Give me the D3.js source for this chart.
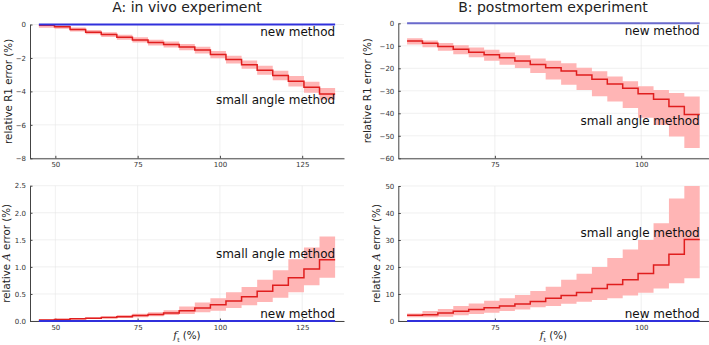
<!DOCTYPE html>
<html>
<head>
<meta charset="utf-8">
<title>relative error</title>
<script src="https://d3js.org/d3.v7.min.js"></script>
<style>
  body { margin: 0; background: #fff; }
  text { font-family: "DejaVu Sans", sans-serif; }
</style>
</head>
<body>
<svg width="709" height="345"></svg>
<script>
// step edges (f_t, %)
const fA = [45, 49.74, 54.47, 59.21, 63.95, 68.68, 73.42, 78.16, 82.89, 87.63, 92.37, 97.11, 101.84, 106.58, 111.32, 116.05, 120.79, 125.53, 130.26, 135];
const fB = [60, 62.63, 65.26, 67.89, 70.53, 73.16, 75.79, 78.42, 81.05, 83.68, 86.32, 88.95, 91.58, 94.21, 96.84, 99.47, 102.11, 104.74, 107.37, 110];

// A: in vivo, relative R1 error
const aR1Mid = [-0.04, -0.14, -0.30, -0.46, -0.60, -0.76, -0.92, -1.08, -1.20, -1.35, -1.53, -1.80, -2.10, -2.40, -2.73, -3.05, -3.39, -3.75, -4.15];
const aR1Hi  = [0.0, -0.04, -0.18, -0.33, -0.46, -0.61, -0.76, -0.91, -1.02, -1.16, -1.33, -1.58, -1.87, -2.15, -2.46, -2.76, -3.08, -3.42, -3.80];
const aR1Lo  = [-0.20, -0.26, -0.42, -0.59, -0.74, -0.91, -1.08, -1.25, -1.38, -1.54, -1.73, -2.02, -2.33, -2.65, -3.00, -3.34, -3.70, -4.08, -4.50];

// A: in vivo, relative A error
const aAMid = [0.02, 0.03, 0.04, 0.05, 0.065, 0.08, 0.10, 0.12, 0.15, 0.19, 0.24, 0.30, 0.37, 0.45, 0.55, 0.66, 0.80, 0.96, 1.13];
const aAHi  = [0.03, 0.04, 0.055, 0.07, 0.09, 0.11, 0.135, 0.16, 0.20, 0.27, 0.34, 0.42, 0.53, 0.63, 0.76, 0.94, 1.14, 1.36, 1.56];
const aALo  = [0.01, 0.02, 0.03, 0.04, 0.05, 0.06, 0.07, 0.09, 0.11, 0.13, 0.16, 0.19, 0.24, 0.29, 0.35, 0.43, 0.53, 0.66, 0.80];

// B: postmortem, relative R1 error
const bR1Mid = [-7.9, -8.9, -10.3, -11.5, -12.9, -14.0, -15.3, -16.7, -18.3, -19.8, -21.2, -23.0, -24.9, -27.0, -28.9, -31.3, -33.8, -37.0, -40.5];
const bR1Hi  = [-6.6, -7.6, -8.8, -9.8, -10.8, -11.8, -13.0, -14.2, -15.6, -16.6, -17.8, -19.8, -21.3, -23.6, -25.8, -28.0, -29.6, -31.0, -32.5];
const bR1Lo  = [-9.4, -10.6, -12.2, -13.8, -15.1, -16.6, -18.4, -19.9, -22.1, -25.0, -27.3, -29.6, -32.4, -34.7, -37.6, -42.0, -45.2, -50.3, -55.4];

// B: postmortem, relative A error
const bAMid = [2.1, 2.3, 3.0, 3.6, 4.3, 4.9, 5.6, 6.3, 7.2, 8.4, 9.4, 10.6, 12.0, 13.5, 15.3, 17.6, 20.7, 24.7, 30.2];
const bAHi  = [2.8, 3.7, 4.4, 5.6, 6.5, 7.5, 8.4, 9.6, 11.1, 12.7, 15.3, 17.5, 20.0, 23.3, 26.5, 30.0, 36.2, 45.4, 55.0];
const bALo  = [1.4, 1.4, 1.6, 2.1, 2.6, 3.1, 3.7, 4.3, 5.1, 5.6, 6.4, 7.1, 7.8, 8.4, 9.4, 10.5, 12.0, 14.0, 15.8];

const xTicksA = [50, 75, 100, 125];
const xTicksB = [75, 100];

const svg = d3.select("svg");

const panels = [
  { id: "a1", f: fA, mid: aR1Mid, hi: aR1Hi, lo: aR1Lo, xDomain: [42.3, 137.7], yDomain: [-8, 0],
    xTicks: xTicksA, yTicks: [-8, -6, -4, -2, 0], fmt: d3.format("d"),
    left: 30, right: 344, top: 24.5, bottom: 158.3, blue: "#3030dc",
    ylab: "R1", ylabX: 12, newY: -0.45, smallY: -4.5 },
  { id: "a2", f: fA, mid: aAMid, hi: aAHi, lo: aALo, xDomain: [42.3, 137.7], yDomain: [0, 2.5],
    xTicks: xTicksA, yTicks: [0, 0.5, 1, 1.5, 2, 2.5], fmt: d3.format(".1f"),
    left: 30, right: 344, top: 185.7, bottom: 321, blue: "#3030dc",
    ylab: "A", ylabX: 10, newY: 0.13, smallY: 1.25, xlab: true },
  { id: "b1", f: fB, mid: bR1Mid, hi: bR1Hi, lo: bR1Lo, xDomain: [58.5, 111.5], yDomain: [-60, 0],
    xTicks: xTicksB, yTicks: [-60, -50, -40, -30, -20, -10, 0], fmt: d3.format("d"),
    left: 398.3, right: 708.5, top: 23.3, bottom: 158.3, blue: "#6a6acc",
    ylab: "R1", ylabX: 371, newY: -3.3, smallY: -43.4 },
  { id: "b2", f: fB, mid: bAMid, hi: bAHi, lo: bALo, xDomain: [58.5, 111.5], yDomain: [0, 50],
    xTicks: xTicksB, yTicks: [0, 10, 20, 30, 40, 50], fmt: d3.format("d"),
    left: 398.3, right: 708.5, top: 186, bottom: 321, blue: "#3030dc",
    ylab: "A", ylabX: 380, newY: 2.6, smallY: 32.8, xlab: true }
];

panels.forEach(function(p) {
  const x = d3.scaleLinear().domain(p.xDomain).range([p.left, p.right]);
  const y = d3.scaleLinear().domain(p.yDomain).range([p.bottom, p.top]);
  const g = svg.append("g");

  svg.append("clipPath").attr("id", "clip-" + p.id)
    .append("rect")
    .attr("x", p.left).attr("y", p.top)
    .attr("width", p.right - p.left).attr("height", p.bottom - p.top);

  // grid
  g.selectAll(".vgrid").data(p.xTicks).enter().append("line")
    .attr("x1", d => x(d)).attr("x2", d => x(d))
    .attr("y1", p.top).attr("y2", p.bottom)
    .attr("stroke", "#e6e6e6").attr("stroke-width", 0.6);
  g.selectAll(".hgrid").data(p.yTicks).enter().append("line")
    .attr("x1", p.left).attr("x2", p.right)
    .attr("y1", d => y(d)).attr("y2", d => y(d))
    .attr("stroke", "#e6e6e6").attr("stroke-width", 0.6);

  // axes
  const xAxis = g.append("g")
    .attr("transform", "translate(0," + p.bottom + ")")
    .call(d3.axisBottom(x).tickValues(p.xTicks).tickSizeInner(-2.5).tickSizeOuter(0).tickPadding(4));
  const yAxis = g.append("g")
    .attr("transform", "translate(" + p.left + ",0)")
    .call(d3.axisLeft(y).tickValues(p.yTicks).tickFormat(p.fmt).tickSizeInner(-2.5).tickSizeOuter(0).tickPadding(4));
  [xAxis, yAxis].forEach(function(a) {
    a.select(".domain").attr("stroke", "#444").attr("stroke-width", 1);
    a.selectAll(".tick line").attr("stroke", "#444");
    a.selectAll(".tick text").attr("fill", "#333").style("font-size", "7px").style("font-family", "DejaVu Sans");
  });

  // step data, last value held to the final edge
  const n = p.mid.length;
  const pts = p.f.map((fv, i) => ({ x: fv, mid: p.mid[Math.min(i, n - 1)], hi: p.hi[Math.min(i, n - 1)], lo: p.lo[Math.min(i, n - 1)] }));

  g.append("path").datum(pts)
    .attr("clip-path", "url(#clip-" + p.id + ")")
    .attr("d", d3.area().curve(d3.curveStepAfter).x(d => x(d.x)).y0(d => y(d.lo)).y1(d => y(d.hi)))
    .attr("fill", "#ffb5b5");

  g.append("path").datum(pts)
    .attr("d", d3.line().curve(d3.curveStepAfter).x(d => x(d.x)).y(d => y(d.mid)))
    .attr("fill", "none").attr("stroke", "#e01e1e").attr("stroke-width", 1.5);

  // new method sits at zero
  g.append("line")
    .attr("x1", x(p.f[0])).attr("x2", x(p.f[p.f.length - 1]))
    .attr("y1", y(0)).attr("y2", y(0))
    .attr("stroke", p.blue).attr("stroke-width", 2);

  // labels on the curves
  const xEnd = x(p.f[p.f.length - 1]);
  g.append("text").attr("x", xEnd).attr("y", y(p.newY)).attr("dy", "0.35em")
    .attr("text-anchor", "end").style("font-size", "12px").attr("fill", "#111")
    .text("new method");
  g.append("text").attr("x", xEnd).attr("y", y(p.smallY)).attr("dy", "0.35em")
    .attr("text-anchor", "end").style("font-size", "12px").attr("fill", "#111")
    .text("small angle method");

  // y label
  const cy = (p.top + p.bottom) / 2;
  const yl = g.append("text")
    .attr("transform", "translate(" + p.ylabX + "," + cy + ") rotate(-90)")
    .attr("text-anchor", "middle").style("font-size", "10.3px").attr("fill", "#222");
  if (p.ylab === "A") {
    yl.append("tspan").text("relative ");
    yl.append("tspan").style("font-style", "italic").style("font-family", "DejaVu Serif").text("A");
    yl.append("tspan").text(" error (%)");
  } else {
    yl.text("relative R1 error (%)");
  }

  // x label
  if (p.xlab) {
    const cx = (p.left + Math.min(p.right, 709)) / 2;
    const xl = g.append("text").attr("x", cx).attr("y", 339)
      .attr("text-anchor", "middle").style("font-size", "10.3px").attr("fill", "#222");
    xl.append("tspan").style("font-style", "italic").style("font-family", "DejaVu Serif").text("f");
    xl.append("tspan").attr("dy", 3).style("font-size", "6px").text("t");
    xl.append("tspan").attr("dy", -3).text(" (%)");
  }
});

// titles
svg.append("text").attr("x", 187).attr("y", 12).attr("text-anchor", "middle")
  .style("font-size", "14px").attr("fill", "#222").text("A: in vivo experiment");
svg.append("text").attr("x", 553).attr("y", 12).attr("text-anchor", "middle")
  .style("font-size", "14px").attr("fill", "#222").text("B: postmortem experiment");
</script>
</body>
</html>
